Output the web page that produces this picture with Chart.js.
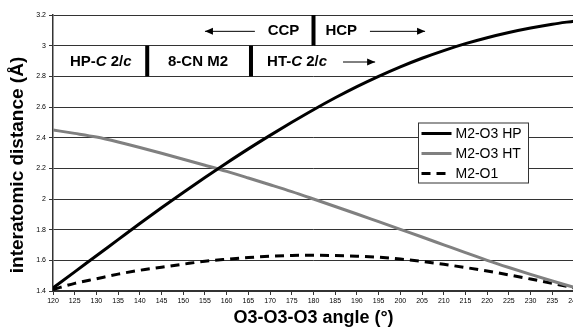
<!DOCTYPE html>
<html>
<head>
<meta charset="utf-8">
<script src="https://cdn.jsdelivr.net/npm/chart.js@4/dist/chart.umd.min.js"></script>
<style>
html,body{margin:0;padding:0;background:#fff;overflow:hidden;width:573px;height:330px;}
#wrap{width:600px;height:330px;}
</style>
</head>
<body>
<div id="wrap"><canvas id="c" width="600" height="330"></canvas></div>
<script>
const angles = [120,125,130,135,140,145,150,155,160,165,170,175,180,185,190,195,200,205,210,215,220,225,230,235,240];
const m2o3HP = [1.42,1.525,1.63,1.735,1.84,1.943,2.043,2.14,2.235,2.327,2.415,2.50,2.582,2.66,2.733,2.80,2.862,2.918,2.968,3.013,3.052,3.086,3.115,3.14,3.16];
const m2o3HT = [2.45,2.428,2.404,2.372,2.336,2.298,2.259,2.22,2.18,2.137,2.093,2.048,2.0,1.951,1.902,1.852,1.802,1.752,1.701,1.65,1.6,1.553,1.508,1.465,1.424];
const m2o1 = [1.41,1.45,1.48,1.51,1.535,1.555,1.575,1.594,1.607,1.618,1.627,1.632,1.633,1.631,1.627,1.62,1.608,1.593,1.574,1.553,1.53,1.505,1.478,1.45,1.42];
const seriesLabels = ['M2-O3 HP','M2-O3 HT','M2-O1'];
const xTitle = 'O3-O3-O3 angle (°)';
const yTitle = 'interatomic distance (Å)';

const FONT = '"Liberation Sans", Arial, sans-serif';
const toPts = arr => arr.map((v,i)=>({x:angles[i], y:v}));

const overlay = {
  id:'overlay',
  afterDraw(chart){
    const ctx = chart.ctx, xs = chart.scales.x, ys = chart.scales.y;
    const X = v => xs.getPixelForValue(v), Y = v => ys.getPixelForValue(v);
    ctx.save();
    // y axis title
    ctx.save();
    ctx.translate(18, 165);
    ctx.rotate(-Math.PI/2);
    ctx.fillStyle = '#000';
    ctx.font = 'bold 19px ' + FONT;
    ctx.textAlign = 'center'; ctx.textBaseline = 'middle';
    ctx.fillText(yTitle, 0, 0);
    ctx.restore();
    // thick separators
    ctx.fillStyle = '#000';
    const bar = (a, y0, y1) => { const x = X(a); ctx.fillRect(x-2, Y(y0), 4, Y(y1)-Y(y0)); };
    bar(180, 3.2, 3.0);
    bar(141.7, 3.0, 2.8);
    bar(165.6, 3.0, 2.8);
    // texts
    const row1 = (Y(3.2)+Y(3.0))/2 + 1, row2 = (Y(3.0)+Y(2.8))/2 + 1;
    ctx.textBaseline = 'middle';
    const runs = (parts, x, y, align) => {
      let w = 0;
      parts.forEach(p => { ctx.font = (p[1]?'italic ':'') + 'bold 15px ' + FONT; w += ctx.measureText(p[0]).width; });
      let cx = align === 'center' ? x - w/2 : x;
      ctx.textAlign = 'left';
      parts.forEach(p => { ctx.font = (p[1]?'italic ':'') + 'bold 15px ' + FONT; ctx.fillText(p[0], cx, y); cx += ctx.measureText(p[0]).width; });
    };
    runs([['HP-',0],['C',1],[' 2/',0],['c',1]], X(131.0), row2, 'center');
    runs([['8-CN M2',0]], X(153.4), row2, 'center');
    runs([['HT-',0],['C',1],[' 2/',0],['c',1]], X(169.3), row2, 'left');
    runs([['CCP',0]], X(173.1), row1, 'center');
    runs([['HCP',0]], X(186.4), row1, 'center');
    const arrow = (a0, a1, y) => {
      const x0 = X(a0), x1 = X(a1);
      ctx.strokeStyle = '#000'; ctx.lineWidth = 1;
      ctx.beginPath(); ctx.moveTo(x0, y); ctx.lineTo(x1, y); ctx.stroke();
      const d = x1 > x0 ? 1 : -1;
      ctx.beginPath(); ctx.moveTo(x1, y); ctx.lineTo(x1 - d*8, y-3.5); ctx.lineTo(x1 - d*8, y+3.5); ctx.closePath(); ctx.fill();
    };
    arrow(166.5, 155.0, row1);
    arrow(193.0, 205.7, row1);
    arrow(186.8, 194.2, row2);
    // legend
    const lx = 418.5, ly = 123, lw = 110, lh = 60;
    ctx.fillStyle = '#fff'; ctx.fillRect(lx, ly, lw, lh);
    ctx.strokeStyle = '#333'; ctx.lineWidth = 1; ctx.strokeRect(lx, ly, lw, lh);
    chart.data.datasets.forEach((ds, i) => {
      const yy = ly + 10.5 + i*20;
      ctx.strokeStyle = ds.borderColor; ctx.lineWidth = ds.borderWidth;
      ctx.setLineDash(ds.borderDash || []);
      ctx.beginPath(); ctx.moveTo(lx+3, yy); ctx.lineTo(lx+33, yy); ctx.stroke();
      ctx.setLineDash([]);
      ctx.fillStyle = '#000'; ctx.font = '14px ' + FONT; ctx.textAlign = 'left'; ctx.textBaseline = 'middle';
      ctx.fillText(ds.label, lx+37, yy+1);
    });
    ctx.restore();
  }
};

new Chart(document.getElementById('c'), {
  type:'line',
  data:{
    datasets:[
      {label:seriesLabels[0], data:toPts(m2o3HP), borderColor:'#000', borderWidth:3, pointRadius:0, cubicInterpolationMode:'monotone', fill:false},
      {label:seriesLabels[1], data:toPts(m2o3HT), borderColor:'#808080', borderWidth:3, pointRadius:0, cubicInterpolationMode:'monotone', fill:false},
      {label:seriesLabels[2], data:toPts(m2o1), borderColor:'#000', borderWidth:3, borderDash:[9,6], pointRadius:0, cubicInterpolationMode:'monotone', fill:false}
    ]
  },
  options:{
    responsive:false, animation:false,
    layout:{padding:{left:0,right:26,top:15,bottom:0}},
    plugins:{legend:{display:false}, tooltip:{enabled:false}},
    scales:{
      x:{type:'linear', min:120, max:240,
        afterFit(s){ s.height = 39; },
        ticks:{stepSize:5, autoSkip:false, maxRotation:0, padding:2, color:'#000', font:{size:7, family:FONT}},
        grid:{drawOnChartArea:false, drawTicks:true, tickLength:4, color:'#333'},
        border:{color:'#333', width:1.5},
        title:{display:true, text:xTitle, color:'#000', font:{size:18, weight:'bold', family:FONT}, padding:{top:0,bottom:1}}
      },
      y:{type:'linear', min:1.4, max:3.2,
        afterFit(s){ s.width = 53; },
        ticks:{stepSize:0.2, padding:3, color:'#000', font:{size:7, family:FONT}, callback:v => String(+v.toFixed(1))},
        grid:{color:'#333', lineWidth:1, tickLength:4},
        border:{color:'#333', width:1.5},
        title:{display:false, text:yTitle}
      }
    }
  },
  plugins:[overlay]
});
</script>
</body>
</html>
